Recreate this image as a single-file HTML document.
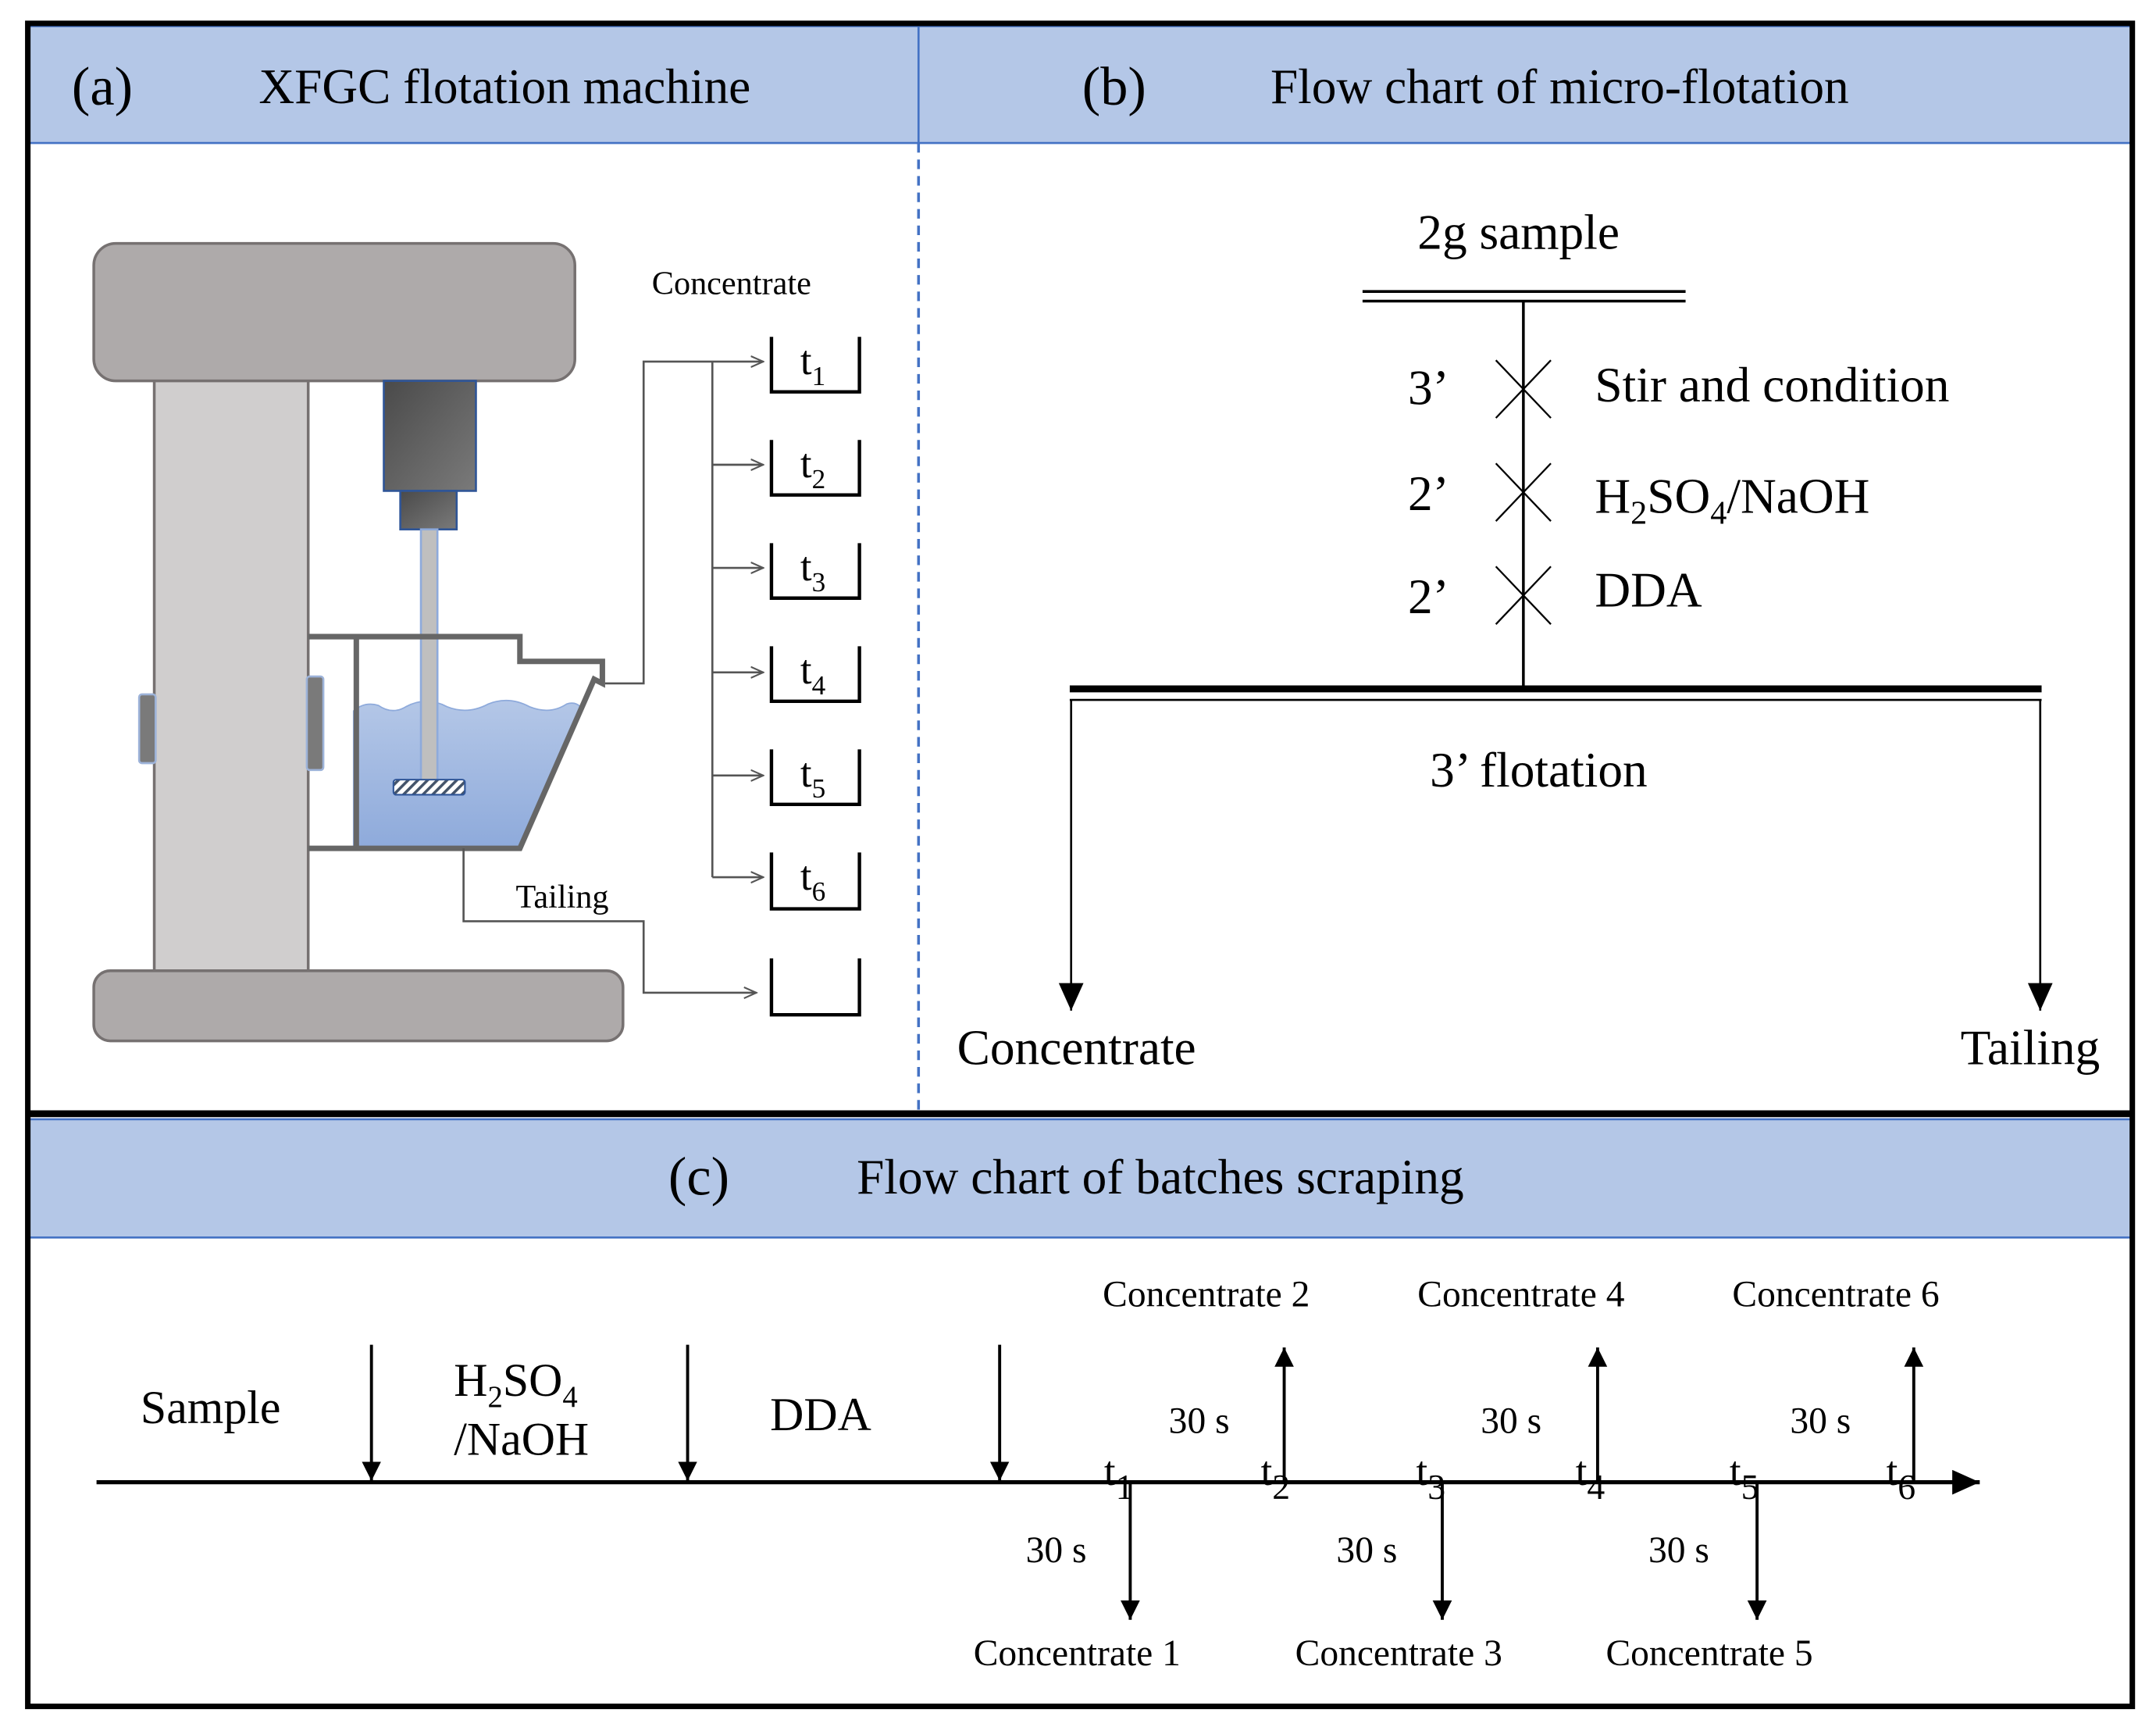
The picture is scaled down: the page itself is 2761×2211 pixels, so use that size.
<!DOCTYPE html>
<html><head><meta charset="utf-8"><style>html,body{margin:0;padding:0;background:#fff}svg{display:block}</style></head><body>
<svg width="2761" height="2211" viewBox="0 0 1568 1256" xmlns="http://www.w3.org/2000/svg" font-family="'Liberation Serif', serif">
<defs>
<linearGradient id="mot" x1="0" y1="0" x2="1" y2="1"><stop offset="0" stop-color="#4a4a4a"/><stop offset="1" stop-color="#7a7a7a"/></linearGradient>
<linearGradient id="wat" x1="0" y1="0" x2="0" y2="1"><stop offset="0" stop-color="#b4c7e7"/><stop offset="1" stop-color="#8eaadb"/></linearGradient>
<pattern id="hat" width="5" height="5" patternUnits="userSpaceOnUse" patternTransform="rotate(45)"><rect width="5" height="5" fill="#fff"/><rect width="2" height="5" fill="#44546a"/></pattern>
<marker id="ag" markerWidth="10" markerHeight="10" refX="9" refY="5" orient="auto" markerUnits="userSpaceOnUse"><path d="M0,1 L9,5 L0,9" fill="none" stroke="#555" stroke-width="1.2"/></marker>
<marker id="ab" markerWidth="16" markerHeight="16" refX="14" refY="7" orient="auto" markerUnits="userSpaceOnUse"><path d="M0,0 L14,7 L0,14 Z" fill="#000"/></marker>
<marker id="abl" markerWidth="22" markerHeight="22" refX="20" refY="9" orient="auto" markerUnits="userSpaceOnUse"><path d="M0,0 L20,9 L0,18 Z" fill="#000"/></marker>
</defs>
<rect width="1568" height="1256" fill="#fff"/>
<rect x="21" y="19" width="647" height="85" fill="#b4c7e7" stroke="#4472c4" stroke-width="1.5"/>
<rect x="668" y="19" width="882" height="85" fill="#b4c7e7" stroke="#4472c4" stroke-width="1.5"/>
<rect x="21" y="814" width="1529" height="86" fill="#b4c7e7" stroke="#4472c4" stroke-width="1.5"/>
<rect x="20" y="17" width="1531" height="1224" fill="none" stroke="#000" stroke-width="4"/>
<line x1="20" y1="810" x2="1551" y2="810" stroke="#000" stroke-width="5"/>
<line x1="668" y1="104" x2="668" y2="808" stroke="#4472c4" stroke-width="2" stroke-dasharray="7,5"/>
<g font-size="36" fill="#000">
<text x="52" y="76" font-size="40">(a)</text><text x="188" y="75">XFGC flotation machine</text>
<text x="787" y="76" font-size="40">(b)</text><text x="924" y="75">Flow chart of micro-flotation</text>
<text x="486" y="869" font-size="40">(c)</text><text x="623" y="868">Flow chart of batches scraping</text>
</g>
<rect x="112" y="270" width="112" height="440" fill="#d0cece" stroke="#767171" stroke-width="2"/>
<rect x="68" y="177" width="350" height="100" rx="16" fill="#aeaaaa" stroke="#767171" stroke-width="2"/>
<rect x="68" y="706" width="385" height="51" rx="12" fill="#aeaaaa" stroke="#767171" stroke-width="2"/>
<rect x="101" y="505" width="12" height="50" rx="2" fill="#7a7a7a" stroke="#9db3d9" stroke-width="1.5"/>
<rect x="223" y="492" width="12" height="68" rx="2" fill="#7a7a7a" stroke="#9db3d9" stroke-width="1.5"/>
<rect x="279" y="277" width="67" height="80" fill="url(#mot)" stroke="#2f5597" stroke-width="1.5"/>
<rect x="291" y="357" width="41" height="28" fill="url(#mot)" stroke="#2f5597" stroke-width="1.5"/>
<path d="M257,517 Q265,510 275,513 Q285,520 295,514 Q310,506 325,514 Q340,520 355,512 Q370,506 385,514 Q400,520 412,512 Q418,510 422,514 L378,617 L257,617 Z" fill="url(#wat)" stroke="#8eaadb" stroke-width="1"/>
<rect x="306" y="385" width="12" height="185" fill="#bfbfbf" stroke="#8eaadb" stroke-width="1.5"/>
<rect x="286" y="567" width="52" height="11" rx="2" fill="url(#hat)" stroke="#2f5597" stroke-width="1.2"/>
<path d="M224,463 L378,463 L378,481 L438,481 L438,497 L432,494 L378,617 L224,617" fill="none" stroke="#666" stroke-width="4"/>
<line x1="259" y1="463" x2="259" y2="617" stroke="#666" stroke-width="4"/>
<g stroke="#555" stroke-width="1.5" fill="none">
<polyline points="440,497 468,497 468,263 555,263" marker-end="url(#ag)"/>
<line x1="518" y1="263" x2="518" y2="638"/>
<line x1="518" y1="338" x2="555" y2="338" marker-end="url(#ag)"/>
<line x1="518" y1="413" x2="555" y2="413" marker-end="url(#ag)"/>
<line x1="518" y1="489" x2="555" y2="489" marker-end="url(#ag)"/>
<line x1="518" y1="564" x2="555" y2="564" marker-end="url(#ag)"/>
<line x1="518" y1="638" x2="555" y2="638" marker-end="url(#ag)"/>
<polyline points="337,617 337,670 468,670 468,722 550,722" marker-end="url(#ag)"/>
</g>
<g stroke="#000" stroke-width="2.5" fill="none">
<polyline points="561,245 561,285 625,285 625,245"/>
<polyline points="561,320 561,360 625,360 625,320"/>
<polyline points="561,395 561,435 625,435 625,395"/>
<polyline points="561,470 561,510 625,510 625,470"/>
<polyline points="561,545 561,585 625,585 625,545"/>
<polyline points="561,620 561,661 625,661 625,620"/>
<polyline points="561,697 561,738 625,738 625,697"/>
</g>
<g font-size="24" fill="#000">
<text x="474" y="214">Concentrate</text>
<text x="375" y="660">Tailing</text>
</g>
<g font-size="30" fill="#000">
<text x="582" y="272">t<tspan font-size="20" dy="8">1</tspan></text>
<text x="582" y="347">t<tspan font-size="20" dy="8">2</tspan></text>
<text x="582" y="422">t<tspan font-size="20" dy="8">3</tspan></text>
<text x="582" y="497">t<tspan font-size="20" dy="8">4</tspan></text>
<text x="582" y="572">t<tspan font-size="20" dy="8">5</tspan></text>
<text x="582" y="647">t<tspan font-size="20" dy="8">6</tspan></text>
</g>
<g stroke="#000" fill="none">
<line x1="991" y1="212" x2="1226" y2="212" stroke-width="2"/>
<line x1="991" y1="219" x2="1226" y2="219" stroke-width="2"/>
<line x1="1108" y1="219" x2="1108" y2="500" stroke-width="2"/>
<path d="M1088,262 L1128,304 M1128,262 L1088,304 M1088,337 L1128,379 M1128,337 L1088,379 M1088,412 L1128,454 M1128,412 L1088,454" stroke-width="1.3"/>
<line x1="778" y1="501" x2="1485" y2="501" stroke-width="5"/>
<line x1="778" y1="509" x2="1485" y2="509" stroke-width="1.5"/>
<line x1="779" y1="509" x2="779" y2="735" stroke-width="1.5" marker-end="url(#abl)"/>
<line x1="1484" y1="509" x2="1484" y2="735" stroke-width="1.5" marker-end="url(#abl)"/>
</g>
<g font-size="36" fill="#000">
<text x="1031" y="181">2g sample</text>
<text x="1024" y="294">3’</text><text x="1160" y="292">Stir and condition</text>
<text x="1024" y="371">2’</text><text x="1160" y="373">H<tspan font-size="24" dy="8">2</tspan><tspan dy="-8">SO</tspan><tspan font-size="24" dy="8">4</tspan><tspan dy="-8">/NaOH</tspan></text>
<text x="1024" y="446">2’</text><text x="1160" y="441">DDA</text>
<text x="1040" y="572">3’ flotation</text>
<text x="696" y="774">Concentrate</text>
<text x="1426" y="774">Tailing</text>
</g>
<line x1="70" y1="1078" x2="1440" y2="1078" stroke="#000" stroke-width="3" marker-end="url(#abl)"/>
<g stroke="#000" stroke-width="2.2" fill="none">
<line x1="270" y1="978" x2="270" y2="1077" marker-end="url(#ab)"/>
<line x1="500" y1="978" x2="500" y2="1077" marker-end="url(#ab)"/>
<line x1="727" y1="978" x2="727" y2="1077" marker-end="url(#ab)"/>
<line x1="934" y1="1078" x2="934" y2="980" marker-end="url(#ab)"/>
<line x1="1162" y1="1078" x2="1162" y2="980" marker-end="url(#ab)"/>
<line x1="1392" y1="1078" x2="1392" y2="980" marker-end="url(#ab)"/>
<line x1="822" y1="1078" x2="822" y2="1178" marker-end="url(#ab)"/>
<line x1="1049" y1="1078" x2="1049" y2="1178" marker-end="url(#ab)"/>
<line x1="1278" y1="1078" x2="1278" y2="1178" marker-end="url(#ab)"/>
</g>
<g font-size="34" fill="#000">
<text x="102" y="1035">Sample</text>
<text x="330" y="1015">H<tspan font-size="22" dy="8">2</tspan><tspan dy="-8">SO</tspan><tspan font-size="22" dy="8">4</tspan></text>
<text x="330" y="1058">/NaOH</text>
<text x="560" y="1040">DDA</text>
</g>
<g font-size="30" fill="#000">
<text x="803" y="1080">t<tspan font-size="26" dy="10">1</tspan></text>
<text x="917" y="1080">t<tspan font-size="26" dy="10">2</tspan></text>
<text x="1030" y="1080">t<tspan font-size="26" dy="10">3</tspan></text>
<text x="1146" y="1080">t<tspan font-size="26" dy="10">4</tspan></text>
<text x="1258" y="1080">t<tspan font-size="26" dy="10">5</tspan></text>
<text x="1372" y="1080">t<tspan font-size="26" dy="10">6</tspan></text>
</g>
<g font-size="27" fill="#000">
<text x="850" y="1042">30 s</text><text x="1077" y="1042">30 s</text><text x="1302" y="1042">30 s</text>
<text x="746" y="1136">30 s</text><text x="972" y="1136">30 s</text><text x="1199" y="1136">30 s</text>
<text x="802" y="950">Concentrate 2</text><text x="1031" y="950">Concentrate 4</text><text x="1260" y="950">Concentrate 6</text>
<text x="708" y="1211">Concentrate 1</text><text x="942" y="1211">Concentrate 3</text><text x="1168" y="1211">Concentrate 5</text>
</g>
</svg>
</body></html>
